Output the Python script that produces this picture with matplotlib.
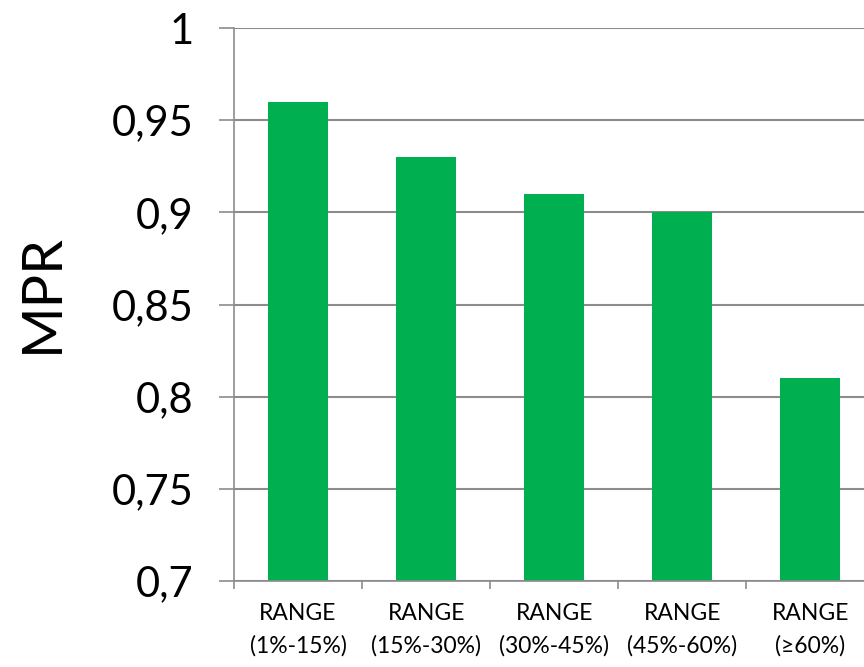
import numpy as np
import matplotlib
matplotlib.use('Agg')
import matplotlib.pyplot as plt
from matplotlib.ticker import FixedLocator , FuncFormatter

categories = ['RANGE\n(1%-15%)' , 'RANGE\n(15%-30%)' , 'RANGE\n(30%-45%)' , 'RANGE\n(45%-60%)' , 'RANGE\n(≥60%)']
values = [0.96 , 0.93 , 0.91 , 0.90 , 0.81]
yticks = [0.7 , 0.75 , 0.8 , 0.85 , 0.9 , 0.95 , 1.0]

plt.rcParams['font.family'] = ['Lato' , 'DejaVu Sans']
gridColor = '#8c8c8c'

fig = plt.figure(figsize = [8.64 , 6.67] , dpi = 100)
ax = fig.add_axes([234 / 864 , 86 / 667 , 630 / 864 , 553 / 667])

x = np.arange(len(categories))
ax.bar(x , values , width = 0.47 , color = '#00b050' , zorder = 2)

ax.set_ylim(0.7 , 1.0)
ax.set_xlim(-0.5 , 4.42)
ax.set_yticks(yticks)
ax.yaxis.set_major_formatter(FuncFormatter(lambda v , p: ('%g' % round(v , 2)).replace('.' , ',')))
ax.yaxis.grid(True , color = gridColor , linewidth = 1.5 , zorder = 0)
ax.tick_params(axis = 'y' , length = 11 , width = 1.2 , color = gridColor , labelsize = 30 , pad = 18)

ax.set_xticks(x)
ax.set_xticklabels(categories , fontsize = 16.5 , linespacing = 1.6)
ax.tick_params(axis = 'x' , which = 'major' , length = 0 , pad = 16)
ax.xaxis.set_minor_locator(FixedLocator(np.arange(-0.5 , 4.6 , 1.0)))
ax.tick_params(axis = 'x' , which = 'minor' , length = 6 , width = 1.2 , color = gridColor)

for side in ['top' , 'right']:
    ax.spines[side].set_visible(False)
for side in ['left' , 'bottom']:
    ax.spines[side].set_color(gridColor)
    ax.spines[side].set_linewidth(1.2)

ax.set_ylabel('MPR' , fontsize = 40 , va = 'center' , ha = 'center')
ax.yaxis.set_label_coords((42 - 234) / 630 , (581 - 293) / 553)

fig.savefig('out.png' , dpi = 100)
